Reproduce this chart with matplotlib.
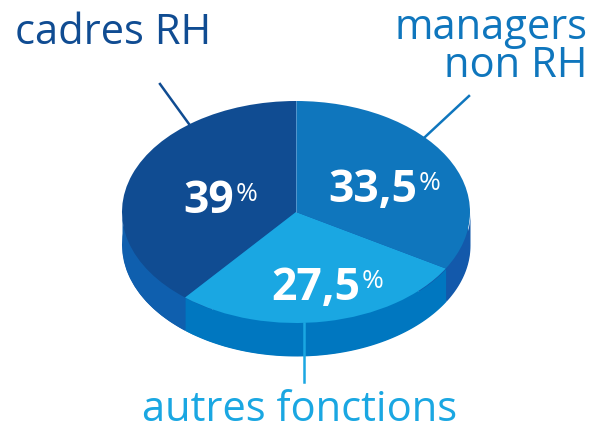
import matplotlib
matplotlib.use("Agg")
import matplotlib.pyplot as plt
import numpy as np

plt.rcParams['font.family'] = ['Open Sans', 'DejaVu Sans']

# order: counterclockwise from the top
names = ['cadres RH', 'autres fonctions', 'managers\nnon RH']
values = [39, 27.5, 33.5]
value_labels = ['39', '27,5', '33,5']
top_colors = ['#104c92', '#1aa7e2', '#0f76bd']
side_colors = ['#0f5fae', '#0077c0', '#1359ab']

W, H = 594, 430
cx, cy, rx, ry = 296, 212, 174, 111
depth = 33 / ry

fig = plt.figure(figsize=(W / 100, H / 100), dpi=100)
ax = fig.add_axes([0, 0, 1, 1])

# pie base and wall
ax.pie(values, colors=side_colors, startangle=90, counterclock=True,
       center=(0, -depth), radius=1, frame=False)
edges = 90 + np.cumsum([0] + values) * 3.6
for i in range(3):
    t = np.radians(np.linspace(edges[i], edges[i + 1], 100))
    # wall only shows on the lower half
    t = t[np.sin(t) <= 0]
    if len(t):
        ax.fill_between(np.cos(t), np.sin(t), np.sin(t) - depth, color=side_colors[i], lw=0)

# top of the pie
ax.pie(values, colors=top_colors, startangle=90, counterclock=True, radius=1, frame=False)
ax.plot([0, 0], [0, 1], color='#5f9bd0', lw=0.6)

ax.set_aspect('auto')
ax.set_xlim(-cx / rx, (W - cx) / rx)
ax.set_ylim((cy - H) / ry, cy / ry)
ax.axis('off')


def px(x, y):
    return (x - cx) / rx, (cy - y) / ry


# leader lines
ax.plot(*zip(px(189, 124), px(160, 84)), color='#104c92', lw=1.8)
ax.plot(*zip(px(425, 137), px(469, 96)), color='#0f76bd', lw=1.8)
ax.plot(*zip(px(304, 323), px(304, 382)), color='#1aa7e2', lw=1.8)

# names
ax.text(*px(15, 33), names[0], color='#104c92', fontsize=30, va='center', ha='left')
ax.text(*px(587, 47), names[2], color='#0f76bd', fontsize=30, va='center', ha='right',
        multialignment='right', linespacing=0.9)
ax.text(*px(300, 410), names[1], color='#1aa7e2', fontsize=30, va='center', ha='center')

# percentages
for lab, xy in zip(value_labels, [(183, 202), (271, 288), (328, 191)]):
    t = ax.text(*px(*xy), lab, color='white', fontsize=32, fontweight='bold', va='center', ha='left')
    fig.canvas.draw()
    bb = t.get_window_extent()
    ax.text(*px(bb.x1 + 2, xy[1] - 7), '%', color='white', fontsize=19, va='center', ha='left')

fig.savefig('out.png', dpi=100)
